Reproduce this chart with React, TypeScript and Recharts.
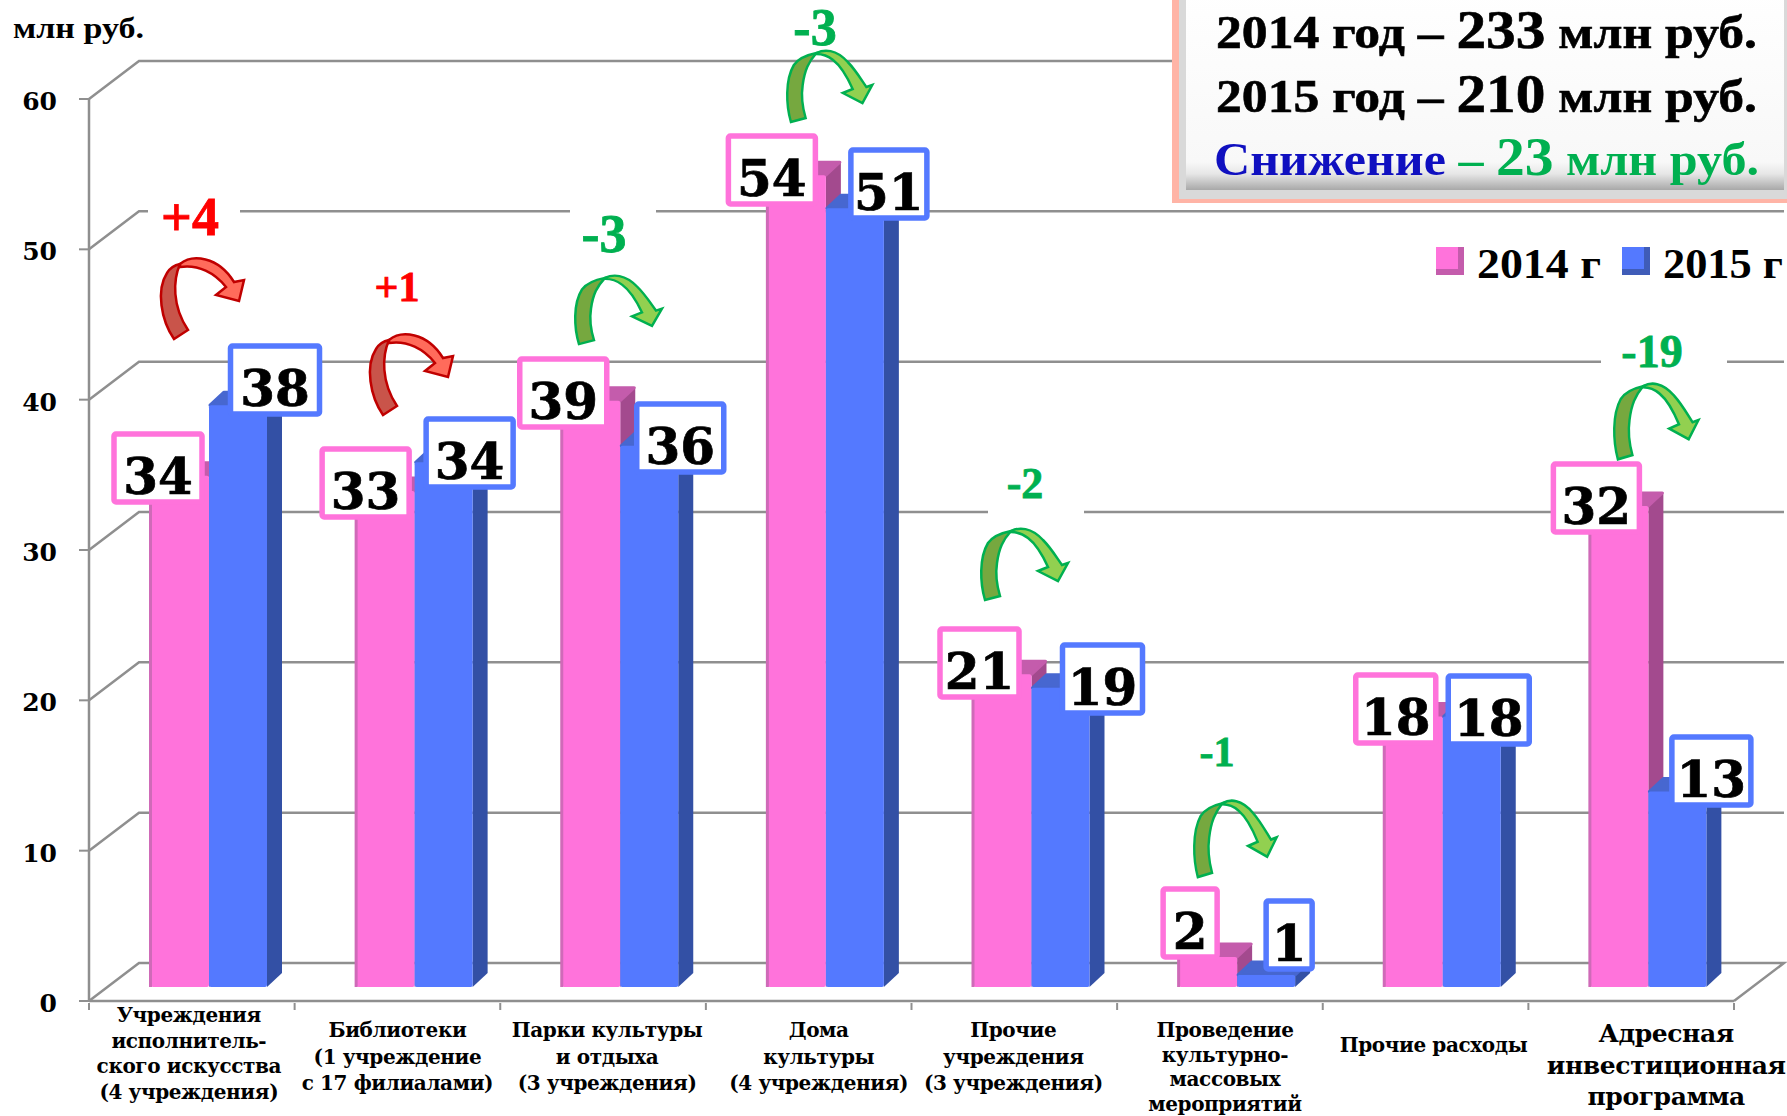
import { BarChart, Bar, XAxis, YAxis, CartesianGrid, LabelList, Legend } from 'recharts'

// values
const categories = [
  'Учреждения\nисполнитель-\nского искусства\n(4 учреждения)',
  'Библиотеки\n(1 учреждение\nс 17 филиалами)',
  'Парки культуры\nи отдыха\n(3 учреждения)',
  'Дома\nкультуры\n(4 учреждения)',
  'Прочие\nучреждения\n(3 учреждения)',
  'Проведение\nкультурно-\nмассовых\nмероприятий',
  'Прочие расходы',
  'Адресная\nинвестиционная\nпрограмма',
]
// the printed labels and the drawn bar heights disagree a bit in the source chart
const labels2014 = [34, 33, 39, 54, 21, 2, 18, 32]
const labels2015 = [38, 34, 36, 51, 19, 1, 18, 13]
const values2014 = [34, 33, 39, 54, 20.8, 2, 18, 32]
const values2015 = [38.7, 34.9, 36, 51.8, 19.9, 0.8, 18, 13]
const yTicks = [0, 10, 20, 30, 40, 50, 60]

const chartData = categories.map((category, i) => ({
  category,
  y2014: values2014[i],
  y2015: values2015[i],
  label2014: labels2014[i],
  label2015: labels2015[i],
}))

// layout of the fake 3d plot
const WIDTH = 1787
const HEIGHT = 1116
const PLOT_LEFT = 89
const PLOT_RIGHT = 1734
const PLOT_TOP = 99
const PLOT_BOTTOM = 1001
const BAND = (PLOT_RIGHT - PLOT_LEFT) / categories.length
const WALL_DX = 50
const WALL_DY = 38
const BAR_DX = 17
const BAR_DY = 14
const SIDE_DX = 15
const SIDE_DY = 14

const GRID = '#8f8f8f'
const PINK = '#ff73db'
const BLUE = '#5479ff'
const INK = '#000'
const SERIF = '"Liberation Serif", serif'
const WIDE_SERIF = '"DejaVu Serif", serif'

// hand placed label boxes: dx from the bar's centre, cy is the box centre on the page
const pinkBox = {
  dx: [-22, -20, -28, -25, -23, -18, -18, -23],
  cy: [468, 483, 393, 170, 663, 923, 709, 498],
  w: [88, 87, 87, 87, 79, 54, 80, 86],
}
const blueBox = {
  dx: [37, 26, 31, 34, 42, 23, 17, 34],
  cy: [380, 453, 438, 184, 679, 935, 710, 771],
  w: [89, 87, 87, 76, 80, 46, 81, 79],
}

const tickDx = [-3, 0, 4, 10, -1, 5, 8, 35]
const tickFirstBaseline = [1022, 1037, 1037, 1037, 1037, 1037, 1052, 1042]
const tickLineHeight = [25.5, 26.5, 26.5, 26.5, 26.5, 24.5, 0, 31.5]
const tickFont = [20, 20, 20, 20, 20, 20, 20, 25]

const deltas = [
  { text: '+4', x: 190, y: 217, size: 54, color: '#ff0000' },
  { text: '+1', x: 397, y: 287, size: 42, color: '#ff0000' },
  { text: '-3', x: 604, y: 234, size: 54, color: '#00b050' },
  { text: '-3', x: 815, y: 27, size: 52, color: '#00b050' },
  { text: '-2', x: 1025, y: 483, size: 44, color: '#00b050' },
  { text: '-1', x: 1217, y: 752, size: 42, color: '#00b050' },
  { text: '-19', x: 1652, y: 351, size: 46, color: '#00b050' },
]

const redArrows = [
  { x: 160, y: 258, sx: 1, sy: 1 },
  { x: 369, y: 334, sx: 1, sy: 1 },
]
const greenArrows = [
  { x: 575, y: 275, sx: 1, sy: 0.96 },
  { x: 787, y: 50, sx: 0.98, sy: 1 },
  { x: 981, y: 528, sx: 1, sy: 1 },
  { x: 1194, y: 800, sx: 0.95, sy: 1.07 },
  { x: 1614, y: 383, sx: 0.97, sy: 1.06 },
]

const gridGaps = [
  { x: 148, y: 205, w: 92, h: 20 },
  { x: 570, y: 205, w: 86, h: 20 },
  { x: 988, y: 502, w: 96, h: 20 },
  { x: 1601, y: 351, w: 126, h: 20 },
]

function Bar3d(props: any) {
  const { x, y, width, height, fill, dark, top, edge } = props
  const left = x + BAR_DX
  const right = left + width
  const upper = y - BAR_DY
  const lower = upper + height
  return (
    <g strokeLinejoin="round">
      <polygon
        points={`${right},${upper} ${right + SIDE_DX},${upper - SIDE_DY} ${right + SIDE_DX},${lower - SIDE_DY} ${right},${lower}`}
        fill={dark}
      />
      <polygon
        points={`${left + 1},${upper} ${left + SIDE_DX},${upper - SIDE_DY + 1} ${right + SIDE_DX - 1},${upper - SIDE_DY + 1} ${right},${upper}`}
        fill={top}
        stroke={top}
        strokeWidth={3}
      />
      <rect x={left} y={upper} width={width} height={height} fill={fill} rx={2} />
      {edge && <rect x={left - 2} y={upper} width={3} height={height} fill={edge} />}
    </g>
  )
}

function makeBoxLabel(color: string, box: typeof pinkBox) {
  return function BoxLabel(props: any) {
    const vb = props.viewBox ?? props
    const i = props.index
    const cx = vb.x + vb.width / 2 + BAR_DX + box.dx[i]
    const cy = box.cy[i]
    const w = box.w[i]
    const h = 68
    return (
      <g>
        <rect x={cx - w / 2} y={cy - h / 2} width={w} height={h} fill="#fff" stroke={color} strokeWidth={5.5} rx={2} />
        <text
          x={cx}
          y={cy + 26}
          textAnchor="middle"
          fontFamily={WIDE_SERIF}
          fontWeight="bold"
          fontSize={50}
          fill={INK}
          stroke={INK}
          strokeWidth={0.7}
        >
          {props.value}
        </text>
      </g>
    )
  }
}

function gridLine(props: any) {
  const { x1, x2, y1 } = props
  const backY = y1 - WALL_DY
  const isFloor = y1 >= PLOT_BOTTOM - 1
  return (
    <g key={`grid-${y1}`}>
      <polyline
        points={`${x1},${y1} ${x1 + WALL_DX},${backY} ${x2 + WALL_DX},${backY}${isFloor ? ` ${x2},${y1}` : ''}`}
        fill="none"
        stroke={GRID}
        strokeWidth={2.5}
      />
    </g>
  )
}

function CategoryTick(props: any) {
  const { x, y, payload, index } = props
  const lines: string[] = String(payload.value).split('\n')
  const isLast = index === categories.length - 1
  return (
    <g>
      <line x1={x - BAND / 2} x2={x - BAND / 2} y1={y - 6} y2={y + 1} stroke={GRID} strokeWidth={2} />
      {isLast && <line x1={x + BAND / 2} x2={x + BAND / 2} y1={y - 6} y2={y + 1} stroke={GRID} strokeWidth={2} />}
      <text
        textAnchor="middle"
        fontFamily={WIDE_SERIF}
        fontWeight="bold"
        fontSize={tickFont[index]}
        letterSpacing={-0.4}
        fill={INK}
      >
        {lines.map((line, k) => (
          <tspan key={k} x={x + tickDx[index]} y={tickFirstBaseline[index] + k * tickLineHeight[index]}>
            {line}
          </tspan>
        ))}
      </text>
    </g>
  )
}

function LegendBox({ payload }: any) {
  return (
    <div style={{ position: 'relative', height: 50 }}>
      {(payload ?? []).map((item: any, i: number) => (
        <div key={item.value} style={{ position: 'absolute', left: i === 0 ? 0 : 186, top: 0 }}>
          <div
            style={{
              position: 'absolute',
              left: 0,
              top: 6,
              width: 22,
              height: 22,
              background: item.color,
              borderRight: '6px solid ' + (i === 0 ? '#c45cac' : '#3f5cb8'),
              borderBottom: '6px solid ' + (i === 0 ? '#c45cac' : '#3f5cb8'),
            }}
          />
          <svg width={135} height={50} style={{ position: 'absolute', left: 41, top: 0 }}>
            <text x={0} y={37} fontFamily={SERIF} fontWeight="bold" fontSize={42} fill={INK} textLength={i === 0 ? 124 : 120} lengthAdjust="spacingAndGlyphs">
              {item.value}
            </text>
          </svg>
        </div>
      ))}
    </div>
  )
}

function RedArrow({ x, y, sx, sy }: any) {
  return (
    <g transform={`translate(${x} ${y}) scale(${sx} ${sy})`} stroke="#c00000" strokeWidth={2.5}>
      <path d="M14 81 C1 62 -4 32 7 15 C10 10 15 7 20 6 C13 22 12 48 28 72 Z" fill="#c9544a" />
      <path d="M20 6 C32 -4 58 -2 74 24 L84 22 L79 43 L56 37 L66 29 C55 15 38 6 20 9 Z" fill="#ff6b5b" />
    </g>
  )
}

function GreenArrow({ x, y, sx, sy }: any) {
  return (
    <g transform={`translate(${x} ${y}) scale(${sx} ${sy})`} stroke="#00b050" strokeWidth={2.5}>
      <path d="M4 72 C-1 55 -2 30 7 15 C12 8 20 5 30 3 C22 12 18 20 16 35 C14 48 16 58 19 68 Z" fill="#76a83f" />
      <path d="M30 3 C38 -1 50 -1 62 12 C70 20 76 30 81 37 L87 35 L77 53 L57 43 L67 39 C62 28 55 16 47 10 C42 6 36 4 30 4 Z" fill="#92d050" />
    </g>
  )
}

function Overlay() {
  return (
    <svg width={WIDTH} height={HEIGHT} style={{ position: 'absolute', left: 0, top: 0, pointerEvents: 'none' }}>
      <defs>
        <linearGradient id="bevel" x1="0" y1="0" x2="0" y2="1">
          <stop offset="0" stopColor="#ffffff" />
          <stop offset="0.86" stopColor="#f8f8f8" />
          <stop offset="0.92" stopColor="#e6e6e6" />
          <stop offset="1" stopColor="#a8a8a8" />
        </linearGradient>
      </defs>

      {gridGaps.map((g, i) => (
        <rect key={i} x={g.x} y={g.y} width={g.w} height={g.h} fill="#fff" />
      ))}

      <text x={13} y={38} fontFamily={SERIF} fontWeight="bold" fontSize={29} fill={INK} textLength={131} lengthAdjust="spacingAndGlyphs">
        млн руб.
      </text>

      {/* summary box, runs off the top and right edge */}
      <rect x={1172} y={-10} width={630} height={213} fill="#ffb4a6" />
      <rect x={1179} y={-10} width={620} height={209} fill="#d9d9d9" />
      <rect x={1186} y={-10} width={598} height={200} fill="url(#bevel)" />
      <text x={1216} y={48} fontFamily={SERIF} fontWeight="bold" fontSize={47} fill={INK} stroke={INK} strokeWidth={0.6} textLength={541} lengthAdjust="spacingAndGlyphs">
        2014 год – <tspan fontSize={54}>233</tspan> млн руб.
      </text>
      <text x={1216} y={112} fontFamily={SERIF} fontWeight="bold" fontSize={47} fill={INK} stroke={INK} strokeWidth={0.6} textLength={541} lengthAdjust="spacingAndGlyphs">
        2015 год – <tspan fontSize={54}>210</tspan> млн руб.
      </text>
      <text x={1214} y={175} fontFamily={SERIF} fontWeight="bold" fontSize={47} fill="#00b050" textLength={545} lengthAdjust="spacingAndGlyphs">
        <tspan fill="#1010c0">Снижение</tspan> – <tspan fontSize={54}>23</tspan> млн руб.
      </text>

      {deltas.map((d, i) => (
        <text
          key={i}
          x={d.x}
          y={d.y}
          textAnchor="middle"
          dominantBaseline="central"
          fontFamily={SERIF}
          fontWeight="bold"
          fontSize={d.size}
          fill={d.color}
          stroke={d.color}
          strokeWidth={0.8}
        >
          {d.text}
        </text>
      ))}
      {redArrows.map((a, i) => (
        <RedArrow key={i} {...a} />
      ))}
      {greenArrows.map((a, i) => (
        <GreenArrow key={i} {...a} />
      ))}
    </svg>
  )
}

export default function App() {
  return (
    <div style={{ position: 'absolute', left: 0, top: 0, width: WIDTH, height: HEIGHT, background: '#fff', overflow: 'hidden' }}>
      <BarChart
        width={WIDTH}
        height={HEIGHT}
        data={chartData}
        barSize={58}
        barGap={0}
        margin={{ top: PLOT_TOP, right: WIDTH - PLOT_RIGHT, bottom: HEIGHT - PLOT_BOTTOM - 100, left: 10 }}
      >
        <CartesianGrid vertical={false} horizontal={gridLine} />
        <XAxis
          dataKey="category"
          interval={0}
          height={100}
          tick={<CategoryTick />}
          tickLine={false}
          axisLine={{ stroke: GRID, strokeWidth: 2.5 }}
        />
        <YAxis
          width={79}
          domain={[0, 60]}
          ticks={yTicks}
          tickSize={10}
          tickMargin={22}
          tick={{ fill: INK, fontSize: 25, fontWeight: 'bold', fontFamily: WIDE_SERIF, dy: 2 }}
          tickLine={{ stroke: GRID, strokeWidth: 2 }}
          axisLine={{ stroke: GRID, strokeWidth: 2.5 }}
        />
        <Legend
          verticalAlign="middle"
          content={<LegendBox />}
          wrapperStyle={{ position: 'absolute', left: 1436, top: 241, width: 351, right: 'auto', bottom: 'auto' }}
        />
        <Bar
          dataKey="y2014"
          name="2014 г"
          fill={PINK}
          isAnimationActive={false}
          shape={<Bar3d dark="#a34a8e" top="#c45cac" edge="#cf6ab8" />}
        >
          <LabelList dataKey="label2014" content={makeBoxLabel(PINK, pinkBox)} />
        </Bar>
        <Bar
          dataKey="y2015"
          name="2015 г"
          fill={BLUE}
          isAnimationActive={false}
          shape={<Bar3d dark="#3350a5" top="#4767d0" />}
        >
          <LabelList dataKey="label2015" content={makeBoxLabel(BLUE, blueBox)} />
        </Bar>
      </BarChart>
      <Overlay />
    </div>
  )
}
